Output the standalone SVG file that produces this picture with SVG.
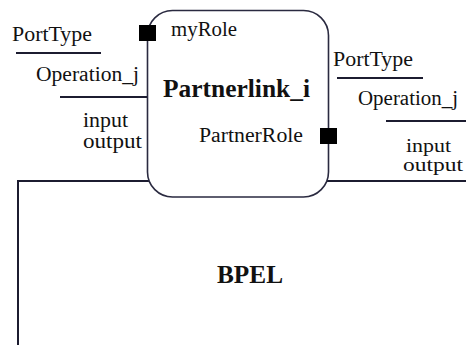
<svg xmlns="http://www.w3.org/2000/svg" width="466" height="345" viewBox="0 0 466 345">
  <style>
    .ln { stroke: #1c1c30; stroke-width: 2; fill: none; }
    .t { font-family: "Liberation Serif", "DejaVu Serif", serif; font-size: 20px; fill: #111; }
    .s { font-size: 18.5px; }
    .b { font-family: "Liberation Serif", "DejaVu Serif", serif; font-size: 25px; font-weight: bold; fill: #111; }
    .port { fill: #000; }
  </style>
  <rect width="466" height="345" fill="#fff"/>

  <!-- BPEL process container -->
  <g id="bpel">
    <path class="ln" d="M18,345 V181 H466"/>
    <text class="b" x="217" y="283" textLength="66" lengthAdjust="spacingAndGlyphs">BPEL</text>
  </g>

  <!-- partner link box -->
  <g id="partnerlink">
    <rect x="147.5" y="10.5" width="181" height="186.5" rx="25" ry="25" fill="#fff" stroke="#2a2a40" stroke-width="1.6"/>
    <text class="b" x="163" y="97" textLength="147" lengthAdjust="spacingAndGlyphs">Partnerlink_i</text>
    <text class="t" x="171" y="36" textLength="66" lengthAdjust="spacingAndGlyphs">myRole</text>
    <text class="t" x="199" y="142" textLength="104" lengthAdjust="spacingAndGlyphs">PartnerRole</text>
  </g>

  <!-- role ports -->
  <g id="myRole-port">
    <rect class="port" x="139" y="25" width="17" height="16"/>
  </g>
  <g id="partnerRole-port">
    <rect class="port" x="320" y="128" width="17" height="16"/>
  </g>

  <!-- port type / operation labels -->
  <g id="left-interface">
    <text class="t" x="12" y="41" textLength="80" lengthAdjust="spacingAndGlyphs">PortType</text>
    <text class="t" x="36" y="81" textLength="103" lengthAdjust="spacingAndGlyphs">Operation_j</text>
    <text class="t" x="83" y="127" textLength="45" lengthAdjust="spacingAndGlyphs">input</text>
    <text class="t" x="83" y="148" textLength="59" lengthAdjust="spacingAndGlyphs">output</text>
  </g>
  <g id="right-interface">
    <text class="t" x="333" y="66" textLength="80" lengthAdjust="spacingAndGlyphs">PortType</text>
    <text class="t" x="358" y="105" textLength="100" lengthAdjust="spacingAndGlyphs">Operation_j</text>
    <text class="t s" x="406" y="152" textLength="45" lengthAdjust="spacingAndGlyphs">input</text>
    <text class="t s" x="403" y="171" textLength="60" lengthAdjust="spacingAndGlyphs">output</text>
  </g>

  <!-- connectors -->
  <g id="connectors">
    <line class="ln" x1="16" y1="53" x2="101" y2="53"/>
    <line class="ln" x1="60" y1="97" x2="147" y2="97"/>
    <line class="ln" x1="337" y1="78" x2="423" y2="78"/>
    <line class="ln" x1="386" y1="121" x2="466" y2="121"/>
  </g>
</svg>
